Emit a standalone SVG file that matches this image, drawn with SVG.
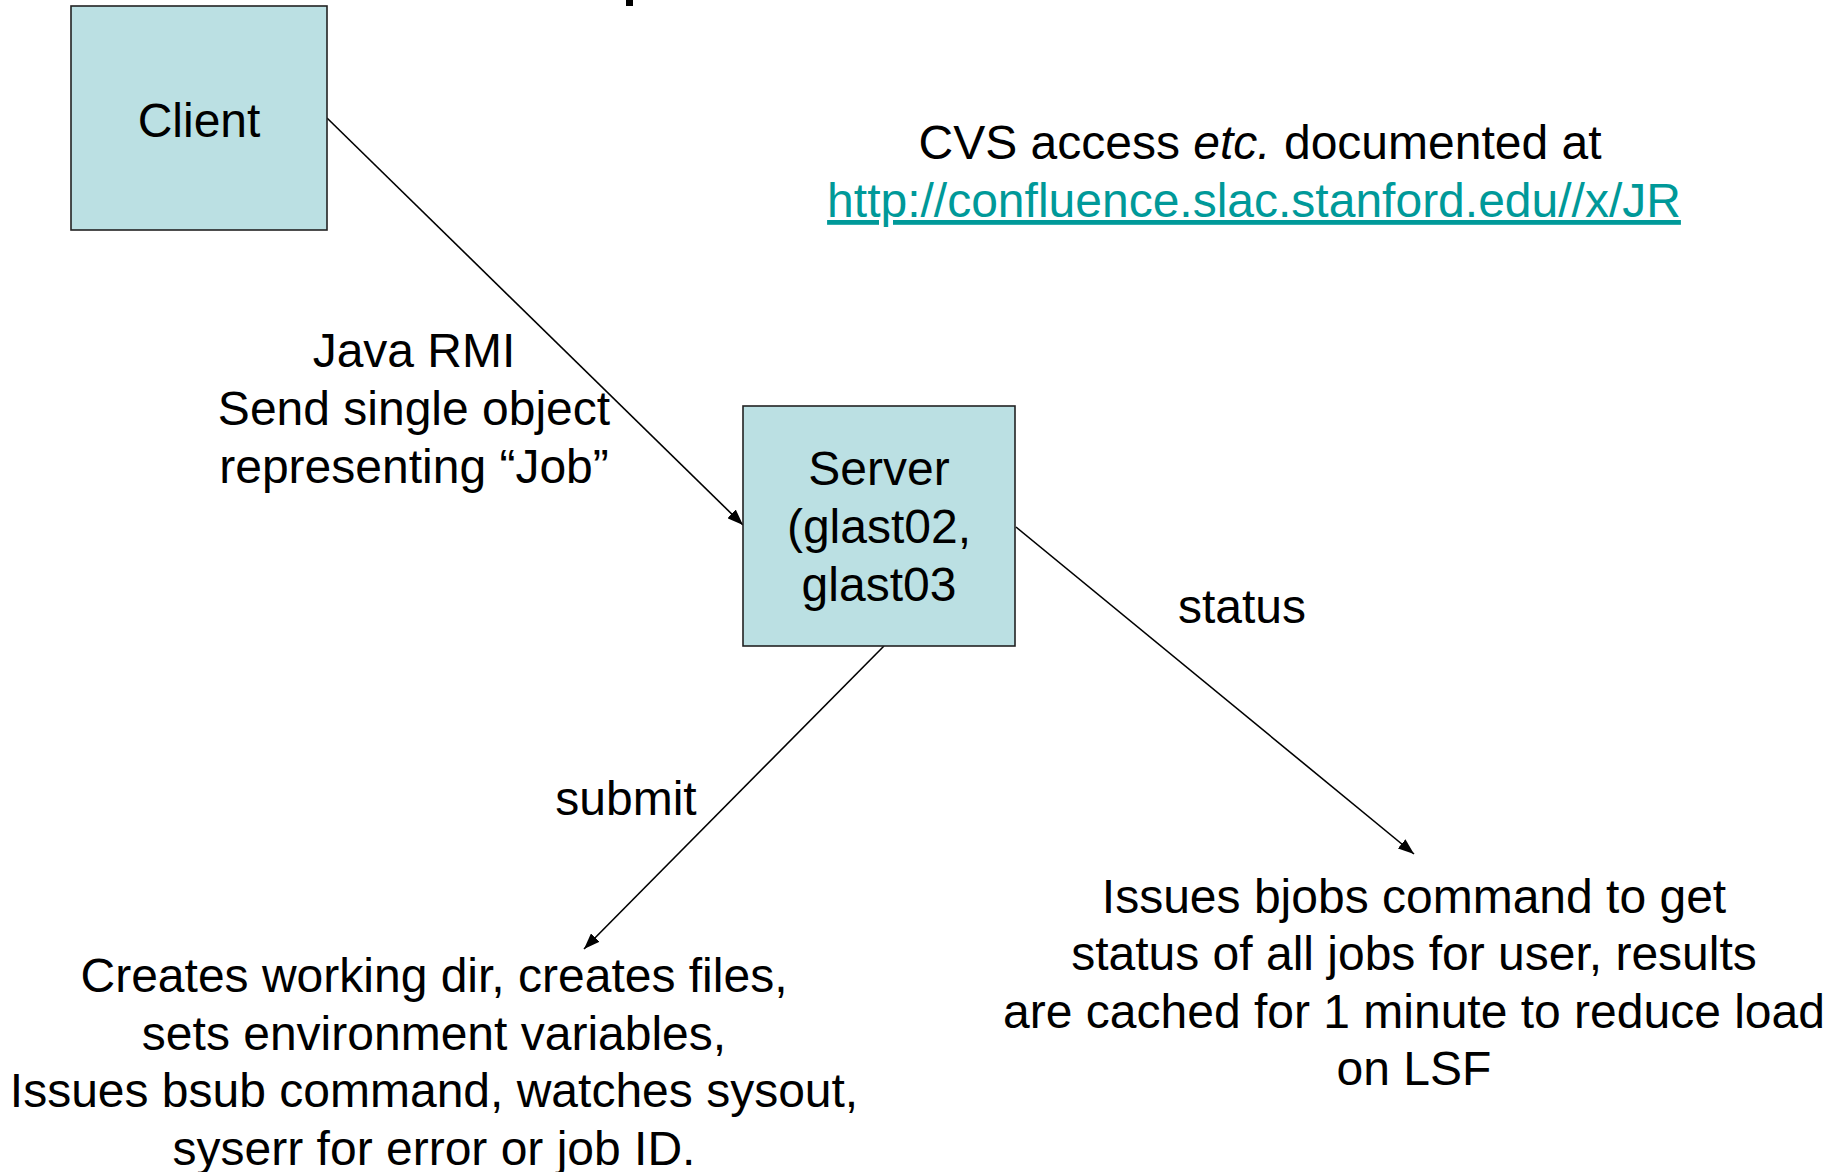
<svg xmlns="http://www.w3.org/2000/svg" width="1831" height="1172" viewBox="0 0 1831 1172">
<style>
text{font-family:"Liberation Sans",Arial,sans-serif;font-size:48px;fill:#000;text-anchor:middle}
.box{fill:#BBE0E3;stroke:#222;stroke-width:1.6}
.conn{stroke:#000;stroke-width:1.6;fill:none}
.link{fill:#009999}
</style>
<defs>
<marker id="arr" viewBox="0 0 16 12" refX="16" refY="6" markerWidth="16" markerHeight="12" markerUnits="userSpaceOnUse" orient="auto">
<path d="M0,0 L16,6 L0,12 z" fill="#000"/>
</marker>
</defs>
<rect width="1831" height="1172" fill="#fff"/>
<rect x="626" y="0" width="7" height="6" fill="#000"/>
<g id="connectors">
<line class="conn" x1="327" y1="118" x2="743" y2="525" marker-end="url(#arr)"/>
<line class="conn" x1="884" y1="646" x2="584" y2="949" marker-end="url(#arr)"/>
<line class="conn" x1="1016" y1="527" x2="1414" y2="854" marker-end="url(#arr)"/>
</g>
<g id="client">
<rect class="box" x="71" y="6" width="256" height="224"/>
<text x="199" y="137">Client</text>
</g>
<g id="server">
<rect class="box" x="743" y="406" width="272" height="240"/>
<text x="879" y="485">Server</text>
<text x="879" y="543">(glast02,</text>
<text x="879" y="601">glast03</text>
</g>
<g id="note">
<text x="1260" y="159">CVS access <tspan font-style="italic">etc.</tspan> documented at</text>
<text class="link" x="1254" y="217" text-decoration="underline">http://confluence.slac.stanford.edu//x/JR</text>
</g>
<g id="rmi-label">
<text x="414" y="367">Java RMI</text>
<text x="414" y="425">Send single object</text>
<text x="414" y="483">representing “Job”</text>
</g>
<g id="submit-label">
<text x="626" y="815">submit</text>
</g>
<g id="status-label">
<text x="1242" y="623">status</text>
</g>
<g id="submit-desc">
<text x="434" y="992">Creates working dir, creates files,</text>
<text x="434" y="1050">sets environment variables,</text>
<text x="434" y="1107">Issues bsub command, watches sysout,</text>
<text x="434" y="1165">syserr for error or job ID.</text>
</g>
<g id="status-desc">
<text x="1414" y="913">Issues bjobs command to get</text>
<text x="1414" y="970">status of all jobs for user, results</text>
<text x="1414" y="1028">are cached for 1 minute to reduce load</text>
<text x="1414" y="1085">on LSF</text>
</g>
</svg>
